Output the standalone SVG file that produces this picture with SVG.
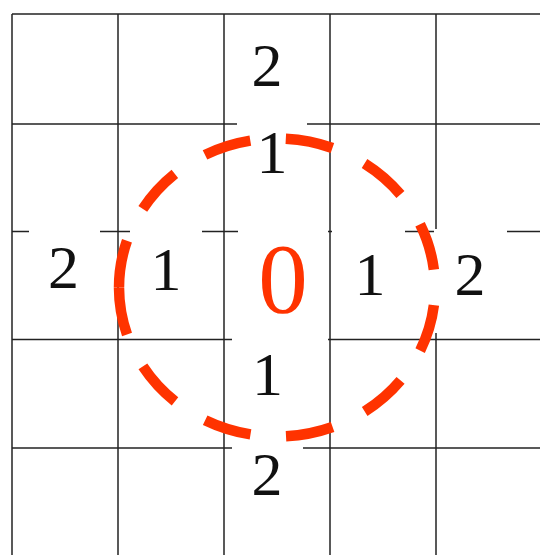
<svg xmlns="http://www.w3.org/2000/svg" width="540" height="555" viewBox="0 0 540 555">
<style>
.grid line{stroke:#222;stroke-width:1.5}
.bg{fill:#fff}
.lbl{font-family:"Liberation Serif","Times New Roman",serif;font-size:62px;fill:#111;text-anchor:middle}
.zero{font-family:"Liberation Serif","Times New Roman",serif;font-size:99px;fill:#ff3300;text-anchor:middle}
.ring{fill:none;stroke:#ff3300;stroke-width:10.5;stroke-dasharray:49.4 37;stroke-linecap:butt}
</style>
<rect width="540" height="555" fill="#fff"/>
<g id="grid" class="grid">
<line x1="12" y1="14" x2="12" y2="555"/>
<line x1="118" y1="14" x2="118" y2="555"/>
<line x1="224" y1="14" x2="224" y2="555"/>
<line x1="330" y1="14" x2="330" y2="555"/>
<line x1="436" y1="14" x2="436" y2="555"/>
<line x1="12" y1="14" x2="540" y2="14"/>
<line x1="12" y1="124" x2="540" y2="124"/>
<line x1="12" y1="231.5" x2="540" y2="231.5"/>
<line x1="12" y1="339.5" x2="540" y2="339.5"/>
<line x1="12" y1="448" x2="540" y2="448"/>
</g>
<g id="n-top2"><rect class="bg" x="232" y="24" width="71" height="90"/><text class="lbl" x="267" y="86">2</text></g>
<g id="n-top1"><rect class="bg" x="237" y="110" width="70" height="100"/><text class="lbl" x="272" y="173">1</text></g>
<g id="n-left2"><rect class="bg" x="29" y="215" width="71" height="100"/><text class="lbl" x="63.5" y="288">2</text></g>
<g id="n-left1"><rect class="bg" x="130" y="227" width="72" height="100"/><text class="lbl" x="166" y="290">1</text></g>
<g id="n-zero"><rect class="bg" x="238" y="211" width="90" height="162"/><text class="zero" x="283" y="312">0</text></g>
<g id="n-right1"><rect class="bg" x="332" y="227" width="73" height="100"/><text class="lbl" x="370" y="295">1</text></g>
<g id="n-right2"><rect class="bg" x="434" y="229" width="73" height="104"/><text class="lbl" x="470" y="295">2</text></g>
<g id="n-bottom1"><rect class="bg" x="232" y="332" width="71" height="100"/><text class="lbl" x="267.5" y="395">1</text></g>
<g id="n-bottom2"><rect class="bg" x="232" y="436" width="71" height="90"/><text class="lbl" x="267" y="495">2</text></g>
<g id="connectors">
<path class="ring" pathLength="1000" d="M119 287.5 A158 149 0 0 1 435 287.5 A158 149 0 0 1 119 287.5"/>
</g>
</svg>
